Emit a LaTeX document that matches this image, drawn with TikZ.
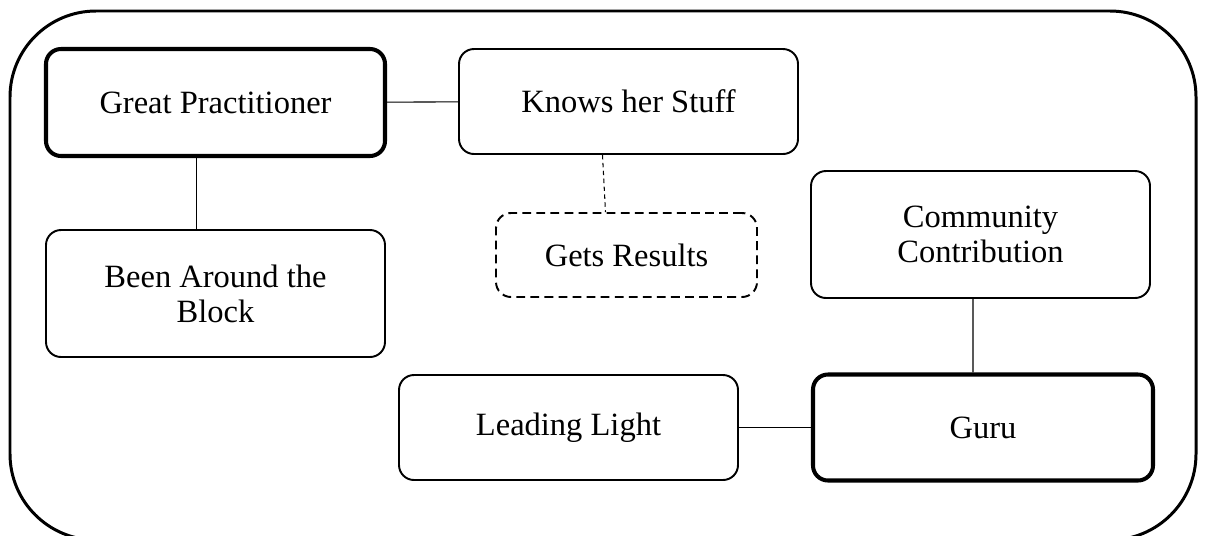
\documentclass[tikz,border=0pt]{standalone}
\usepackage{fontspec}
\setmainfont{Liberation Serif}
\begin{document}
\begin{tikzpicture}[font=\fontsize{18.5}{20}\selectfont,
    box/.style={draw, rounded corners=0.3cm, line width=1.1pt, align=center, inner sep=0pt},
    keybox/.style={box, line width=2.3pt},
    maybebox/.style={box, dash pattern=on 5pt off 3pt},
    link/.style={line width=0.6pt}]
  \useasboundingbox (0,0) rectangle (24.1,-10.7);
  \draw[line width=1.7pt, rounded corners=1.72cm] (0.2,-0.22) rectangle (23.92,-10.8);

  \node[keybox, minimum width=6.78cm, minimum height=2.14cm] (gp)   at (4.31,-2.05)  {Great Practitioner};
  \node[box, minimum width=6.78cm, minimum height=2.10cm]    (ks)   at (12.57,-2.03) {Knows her Stuff};
  \node[maybebox, minimum width=5.22cm, minimum height=1.68cm] (gr) at (12.53,-5.10) {Gets Results};
  \node[box, minimum width=6.78cm, minimum height=2.54cm]    (bab)  at (4.31,-5.87)  {Been Around the\\Block};
  \node[box, minimum width=6.78cm, minimum height=2.54cm]    (cc)   at (19.61,-4.69) {Community\\Contribution};
  \node[box, minimum width=6.78cm, minimum height=2.10cm]    (ll)   at (11.37,-8.55) {Leading Light};
  \node[keybox, minimum width=6.80cm, minimum height=2.12cm] (guru) at (19.66,-8.55) {Guru};

  \draw[link] (gp) -- (ks);
  \draw[link] ([xshift=-0.38cm]gp.south) -- ([xshift=-0.38cm]bab.north);
  \draw[link, dash pattern=on 2.5pt off 2pt] ([xshift=-0.52cm]ks.south) -- ([xshift=-0.42cm]gr.north);
  \draw[link] ([xshift=-0.15cm]cc.south) -- ([xshift=-0.2cm]guru.north);
  \draw[link] (ll) -- (guru);
\end{tikzpicture}
\end{document}
